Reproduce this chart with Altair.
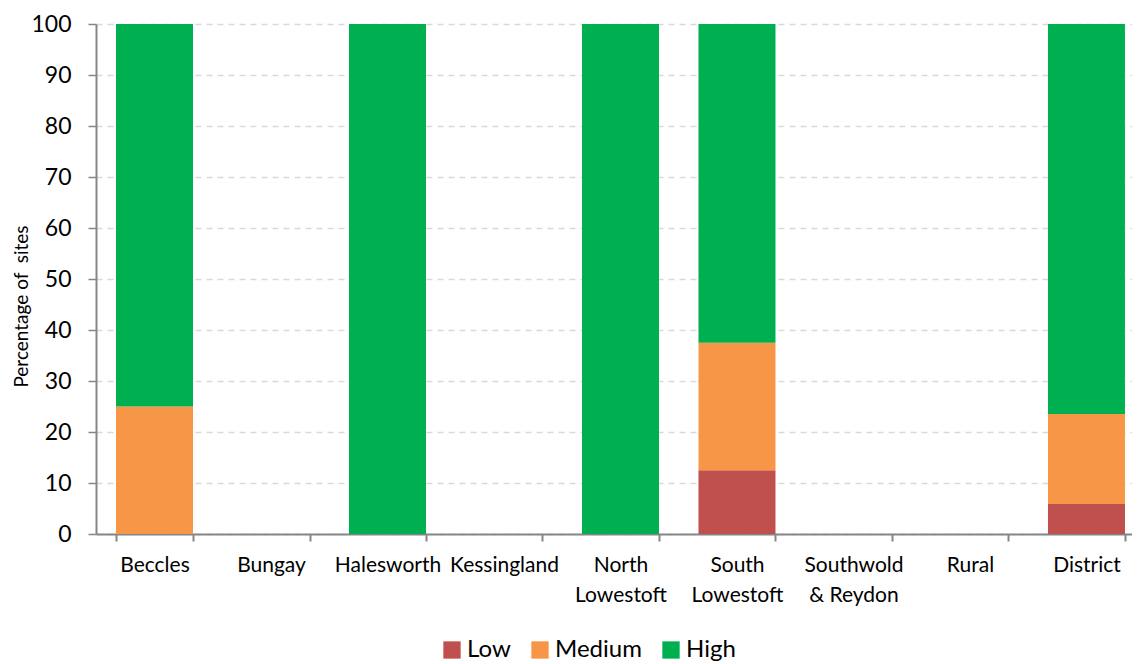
import altair as alt
import pandas as pd

categories = ["Beccles", "Bungay", "Halesworth", "Kessingland", "North|Lowestoft",
              "South|Lowestoft", "Southwold|& Reydon", "Rural", "District"]
low = [0, 0, 0, 0, 0, 12.5, 0, 0, 5.88]
medium = [25, 0, 0, 0, 0, 25, 0, 0, 17.65]
high = [75, 0, 100, 0, 100, 62.5, 0, 0, 76.47]
levels = ["Low", "Medium", "High"]
colors = ["#c0504d", "#f79646", "#00b050"]

rows = []
for i, c in enumerate(categories):
    for k, (lv, vals) in enumerate(zip(levels, [low, medium, high])):
        rows.append({"Area": c, "Level": lv, "Value": vals[i], "ord": k})
df = pd.DataFrame(rows)

FONT = "Lato"

chart = alt.Chart(df).mark_bar(size=77).encode(
    x=alt.X("Area:N", sort=categories, title=None,
            scale=alt.Scale(paddingInner=0.339, paddingOuter=0.116, align=0.74),
            axis=alt.Axis(labelExpr="split(datum.label, '|')", labelAngle=0,
                          tickBand="extent", labelFontSize=21, labelColor="#000000",
                          labelPadding=13, tickSize=7, tickColor="#868686",
                          domainColor="#868686", domainWidth=2, tickWidth=2,
                          labelFont=FONT, labelLineHeight=30, grid=False)),
    y=alt.Y("Value:Q", title="Percentage of\u00a0\u00a0sites",
            scale=alt.Scale(domain=[0, 100], nice=False),
            axis=alt.Axis(values=list(range(0, 101, 10)), labelFontSize=23,
                          labelColor="#000000", labelPadding=17, tickSize=8,
                          tickColor="#868686", domainColor="#868686", domainWidth=2,
                          tickWidth=1.5, titleFontSize=19, titleFontWeight="normal",
                          titleColor="#000000", titleFont=FONT,
                          titleX=-75, titleY=282, titleAngle=270,
                          titleAlign="center", titleBaseline="middle",
                          labelFont=FONT, grid=True, gridColor="#d9d9d9",
                          gridDash=[6, 5], gridWidth=1.5)),
    color=alt.Color("Level:N", scale=alt.Scale(domain=levels, range=colors),
                    legend=alt.Legend(title=None, orient="none", direction="horizontal",
                                      legendX=344, legendY=614, symbolType="square",
                                      symbolSize=300, symbolStrokeWidth=0,
                                      labelFontSize=24, labelFont=FONT,
                                      labelColor="#000000", columnPadding=17,
                                      labelOffset=3, symbolOpacity=1)),
    order=alt.Order("ord:Q", sort="ascending"),
).properties(
    width=1036, height=510,
    autosize=alt.AutoSizeParams(type="none"),
    padding={"left": 88, "top": 16, "right": 0, "bottom": 132},
).configure_view(stroke=None)

chart.save("out.html", embed_options={"renderer": "svg", "actions": False})
